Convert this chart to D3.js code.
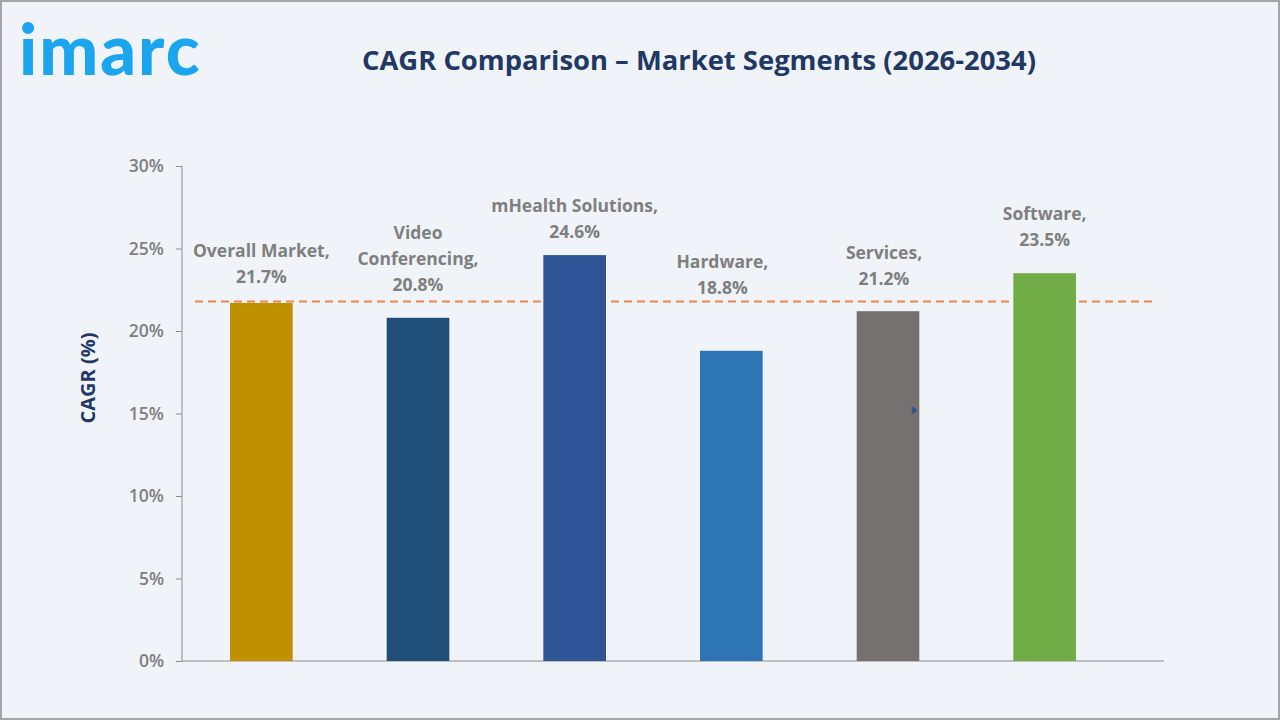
<!DOCTYPE html>
<html>
<head>
<meta charset="utf-8">
<script src="https://cdn.jsdelivr.net/npm/d3@7/dist/d3.min.js"></script>
<style>
	html, body { margin: 0; padding: 0; background: #f0f3f8; }
	svg { display: block; }
	.tick text { font-family: "Open Sans", sans-serif; }
</style>
</head>
<body>
<svg id="chart" width="1280" height="720"></svg>
<script>
(function() {

	// DATA
	var categories = ['Overall Market', 'Video Conferencing', 'mHealth Solutions', 'Hardware', 'Services', 'Software'];
	var cagrValues = [21.7, 20.8, 24.6, 18.8, 21.2, 23.5];
	var labelLines = [
		['Overall Market,', '21.7%'],
		['Video', 'Conferencing,', '20.8%'],
		['mHealth Solutions,', '24.6%'],
		['Hardware,', '18.8%'],
		['Services,', '21.2%'],
		['Software,', '23.5%']
	];
	var yTicks = [0, 5, 10, 15, 20, 25, 30];
	var overallLine = 21.7;

	// STYLE / LAYOUT
	var barColors = ['#bf9000', '#1f4e79', '#2f5597', '#2e75b6', '#767171', '#70ad47'];
	// gap between label bottom and bar top (px) + sideways nudge, the original puts them unevenly
	var labelGap = [20, 27, 17, 57, 26, 27];
	var labelShift = [0, 0, 0, -9, -4, 0];
	var margin = {top: 166, left: 182, right: 116, bottom: 59};
	var W = 1280, H = 720;
	var width = W - margin.left - margin.right;
	var height = H - margin.top - margin.bottom;
	var grey = '#7f7f7f';
	var navy = '#1f3864';

	var svg = d3.select('#chart');

	svg.append('rect')
		.attr('x', 1).attr('y', 1)
		.attr('width', W - 2).attr('height', H - 2)
		.attr('fill', '#f0f3f8')
		.attr('stroke', '#a6a6a6')
		.attr('stroke-width', 2);

	// logo
	svg.append('text')
		.attr('x', 19).attr('y', 75)
		.attr('font-family', 'Lato, sans-serif')
		.attr('font-weight', 900)
		.attr('font-size', 70)
		.attr('letter-spacing', 2)
		.attr('fill', '#1aa5ee')
		.text('imarc');

	// title
	svg.append('text')
		.attr('x', 699).attr('y', 70)
		.attr('text-anchor', 'middle')
		.attr('font-family', '"Open Sans", sans-serif')
		.attr('font-weight', 700)
		.attr('font-size', 27.4)
		.attr('fill', navy)
		.text('CAGR Comparison \u2013 Market Segments (2026-2034)');

	var g = svg.append('g')
		.attr('transform', 'translate(' + margin.left + ',' + margin.top + ')');

	var x = d3.scaleBand()
		.domain(categories)
		.range([1, width - 41])
		.paddingInner(0.6)
		.paddingOuter(0.3);

	var y = d3.scaleLinear()
		.domain([0, 30])
		.range([height, 0]);

	// y axis
	var yAxis = g.append('g')
		.attr('class', 'axis axis--y')
		.call(d3.axisLeft(y)
			.tickValues(yTicks)
			.tickSize(6)
			.tickPadding(12)
			.tickFormat(function(d) { return d + '%'; }));
	yAxis.select('.domain').attr('stroke', '#8c8c8c').attr('d', 'M0,0V' + height);
	yAxis.selectAll('.tick line').attr('stroke', '#8c8c8c');
	yAxis.selectAll('.tick text')
		.attr('fill', grey)
		.attr('font-size', 17.5)
		.attr('font-weight', 600);

	// x axis line
	g.append('line')
		.attr('x1', 0).attr('x2', width)
		.attr('y1', height).attr('y2', height)
		.attr('stroke', '#8c8c8c')
		.attr('stroke-width', 1);

	// overall market reference line (sits behind the bars)
	g.append('line')
		.attr('x1', 13).attr('x2', width - 9)
		.attr('y1', y(overallLine) - 1.5).attr('y2', y(overallLine) - 1.5)
		.attr('stroke', '#e8884a')
		.attr('stroke-width', 2)
		.attr('stroke-dasharray', '8,5');

	// bars
	g.selectAll('.bar')
		.data(categories)
		.enter()
		.append('rect')
		.attr('class', 'bar')
		.attr('x', function(d) { return x(d); })
		.attr('width', x.bandwidth())
		.attr('y', function(d, i) { return y(cagrValues[i]); })
		.attr('height', function(d, i) { return height - y(cagrValues[i]); })
		.attr('fill', function(d, i) { return barColors[i]; });

	// labels
	var lineH = 26;
	categories.forEach(function(c, i) {
		var lines = labelLines[i];
		var bottom = y(cagrValues[i]) - labelGap[i];
		var t = g.append('text')
			.attr('text-anchor', 'middle')
			.attr('font-family', '"Open Sans", sans-serif')
			.attr('font-weight', 700)
			.attr('font-size', 17.5)
			.attr('fill', grey);
		lines.forEach(function(l, k) {
			t.append('tspan')
				.attr('x', x(c) + x.bandwidth() / 2 + labelShift[i])
				.attr('y', bottom - (lines.length - 1 - k) * lineH)
				.text(l);
		});
	});

	// tiny stray marker on the services bar
	var sx = x('Services') + x.bandwidth() * 0.88;
	g.append('path')
		.attr('d', 'M' + sx + ',' + (y(15.2) - 4) + 'l6,4l-6,4z')
		.attr('fill', '#2f5597');

	// y axis title
	svg.append('text')
		.attr('transform', 'translate(95,378) rotate(-90)')
		.attr('text-anchor', 'middle')
		.attr('font-family', '"Open Sans", sans-serif')
		.attr('font-weight', 700)
		.attr('font-size', 20)
		.attr('fill', navy)
		.text('CAGR (%)');

})()
</script>
</body>
</html>
